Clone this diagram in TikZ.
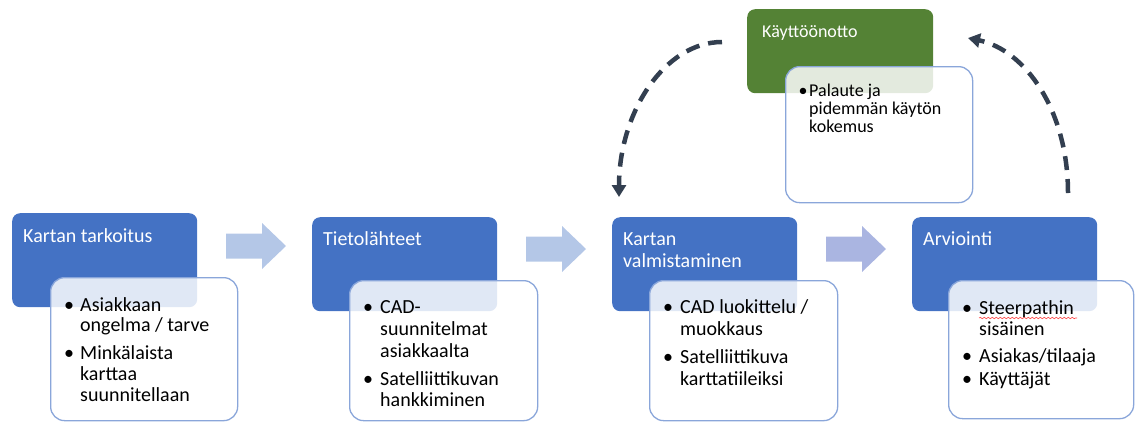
\documentclass[tikz,border=0pt]{standalone}
\usepackage{fontspec}
\setmainfont{Carlito}
\usetikzlibrary{arrows.meta,decorations.pathmorphing}
\definecolor{stepblue}{HTML}{4472C4}
\definecolor{stepgreen}{HTML}{548235}
\definecolor{noteedge}{HTML}{8AA6DA}
\definecolor{flowA}{HTML}{B4C7E7}
\definecolor{flowB}{HTML}{AAB5E1}
\definecolor{loopcol}{HTML}{333F50}
\begin{document}
\begin{tikzpicture}[x=1pt,y=-1pt,
  bluebox/.style={fill=stepblue, rounded corners=8pt, inner sep=0pt, anchor=north west},
  greenbox/.style={fill=stepgreen, rounded corners=8pt, inner sep=0pt, anchor=north west},
  notebox/.style={draw=noteedge, line width=1.3pt, fill=white, fill opacity=0.84,
    rounded corners=14pt, inner sep=0pt, anchor=north west},
  headtext/.style={text=white, font=\fontsize{20}{22}\selectfont, inner sep=0pt, anchor=base west},
  smallhead/.style={text=white, font=\fontsize{18}{20}\selectfont, inner sep=0pt, anchor=base west},
  bodytext/.style={text=black, font=\fontsize{20}{21.5}\selectfont, inner sep=0pt, anchor=base west},
  smallbody/.style={text=black, font=\fontsize{18}{18}\selectfont, inner sep=0pt, anchor=base west},
  dot/.style={text=black, font=\fontsize{20}{20}\selectfont, inner sep=0pt, anchor=base},
  smalldot/.style={text=black, font=\fontsize{18}{18}\selectfont, inner sep=0pt, anchor=base},
  loop/.style={draw=loopcol, line width=4.5pt, dash pattern=on 14pt off 9pt,
    -{Triangle[width=14pt,length=12pt]}},
  blockarrow/.pic={\fill (0,-12.5) -- (36,-12.5) -- (36,-23) -- (60,0) -- (36,23)
    -- (36,12.5) -- (0,12.5) -- cycle;}
]
\useasboundingbox (0,0) rectangle (1135,421);

% step headers
\node[bluebox, minimum width=185pt, minimum height=94pt] (b1) at (12,213) {};
\node[bluebox, minimum width=185pt, minimum height=94pt] (b2) at (312,217) {};
\node[bluebox, minimum width=185pt, minimum height=94pt] (b3) at (612,217) {};
\node[bluebox, minimum width=185pt, minimum height=94pt] (b4) at (912,217) {};
\node[greenbox, minimum width=186pt, minimum height=84pt] (g) at (747,9) {};

\node[headtext] (t1) at (23,242) {Kartan tarkoitus};
\node[headtext] (t2) at (323,245) {Tietolähteet};
\node[headtext] (t3a) at (623,245) {Kartan};
\node[headtext] (t3b) at (623,267) {valmistaminen};
\node[headtext] (t4) at (923,245) {Arviointi};
\node[smallhead] (tg) at (762,37) {Käyttöönotto};

% flow arrows between the steps
\pic[fill=flowA] (f1) at (226,246) {blockarrow};
\pic[fill=flowA] (f2) at (526,249) {blockarrow};
\pic[fill=flowB] (f3) at (826,249) {blockarrow};

% detail cards
\node[notebox, minimum width=187pt, minimum height=143pt] (n1) at (50,277) {};
\node[notebox, minimum width=188pt, minimum height=140pt] (n2) at (349,280) {};
\node[notebox, minimum width=188pt, minimum height=140pt] (n3) at (649,280) {};
\node[notebox, minimum width=185pt, minimum height=138pt] (n4) at (948,280) {};
\node[notebox, minimum width=187pt, minimum height=136pt] (ng) at (785,66) {};

% card 1
\node[dot] (d11) at (69,311) {•};
\node[bodytext] (l11) at (80,311) {Asiakkaan};
\node[bodytext] (l12) at (80,331.5) {ongelma / tarve};
\node[dot] (d12) at (69,359.5) {•};
\node[bodytext] (l13) at (80,359.5) {Minkälaista};
\node[bodytext] (l14) at (80,380) {karttaa};
\node[bodytext] (l15) at (80,401.5) {suunnitellaan};

% card 2
\node[dot] (d21) at (368,313) {•};
\node[bodytext] (l21) at (380,313) {CAD-};
\node[bodytext] (l22) at (380,335) {suunnitelmat};
\node[bodytext] (l23) at (380,357) {asiakkaalta};
\node[dot] (d22) at (368,385) {•};
\node[bodytext] (l24) at (380,385) {Satelliittikuvan};
\node[bodytext] (l25) at (380,406) {hankkiminen};

% card 3
\node[dot] (d31) at (668,313) {•};
\node[bodytext] (l31) at (680,313) {CAD luokittelu /};
\node[bodytext] (l32) at (680,335) {muokkaus};
\node[dot] (d32) at (668,363) {•};
\node[bodytext] (l33) at (680,363) {Satelliittikuva};
\node[bodytext] (l34) at (680,385) {karttatiileiksi};

% card 4
\node[dot] (d41) at (967,314) {•};
\node[bodytext] (l41) at (979,314) {Steerpathin};
\node[bodytext] (l42) at (979,335) {sisäinen};
\node[dot] (d42) at (967,362) {•};
\node[bodytext] (l43) at (979,362) {Asiakas/tilaaja};
\node[dot] (d43) at (967,385) {•};
\node[bodytext] (l44) at (979,385) {Käyttäjät};
\draw[red!75, line width=0.6pt, decorate,
  decoration={snake, amplitude=0.7pt, segment length=4pt}]
  (l41.base west) ++(0,4) -- ++(98,0);

% deployment card
\node[smalldot] (dg1) at (803,96) {•};
\node[smallbody] (lg1) at (809,96) {Palaute ja};
\node[smallbody] (lg2) at (809,114) {pidemmän käytön};
\node[smallbody] (lg3) at (809,132) {kokemus};

% feedback loop
\coordinate (loopLa) at (722,42);
\coordinate (loopLb) at (619,197);
\coordinate (loopRa) at (1068,193);
\coordinate (loopRb) at (968,38);
\draw[loop] (loopLa) .. controls (665,42) and (619,112) .. (loopLb);
\draw[loop] (loopRa) .. controls (1068,110) and (1025,50) .. (loopRb);
\end{tikzpicture}
\end{document}
